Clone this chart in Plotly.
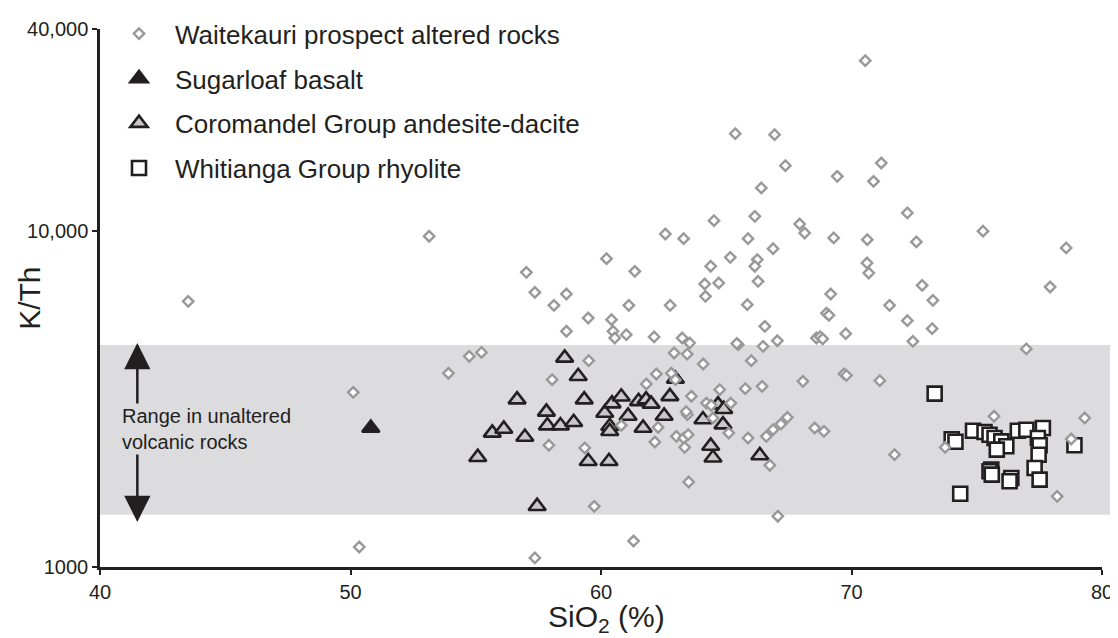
import math
import plotly.graph_objects as go

# ---------------- data ----------------
wait_x = [53.14, 57.02, 57.36, 50.11, 54.74, 55.23, 53.91, 50.35, 57.36, 43.52,
          58.62, 59.49, 60.42, 60.48, 60.55, 61.01, 62.12, 63.24, 63.54, 62.92,
          63.44, 64.08, 65.48, 65.42, 66.47, 67.04, 66.54, 66.00, 59.51, 58.05,
          61.81, 62.21, 62.81, 62.97, 63.61, 64.21, 64.74, 65.18, 65.76, 66.43,
          68.06, 64.47, 63.45, 63.40, 60.81, 62.28, 63.01, 63.30, 63.48, 62.15,
          63.34, 65.10, 65.87, 66.60, 66.87, 67.18, 67.44, 57.92, 59.35, 66.74,
          63.50, 59.73, 67.06, 64.40, 61.30,
          58.12, 58.62, 60.22, 61.35, 61.11, 62.76, 62.57, 63.30, 64.51, 64.38,
          65.16, 64.14, 64.70, 64.17, 65.87, 66.14, 66.87, 66.24, 66.14, 66.27,
          65.84, 67.93, 68.13, 68.60,
          70.55, 65.36, 66.93, 67.36, 66.40, 69.43, 71.19, 70.88, 72.23, 75.25,
          69.29, 70.63, 72.59, 78.57, 70.62, 70.69, 69.17, 69.00, 69.10, 68.75,
          68.85, 69.77, 71.52, 72.82, 73.25, 72.23, 73.22, 72.45, 77.93, 76.98,
          69.70, 69.80, 71.13, 68.53, 68.90, 71.72, 75.69, 73.74, 79.31, 78.77,
          78.21]
wait_y = [9660, 7544, 6577, 3313, 4241, 4355, 3775, 1147, 1064, 6184,
          5035, 5514, 5451, 5035, 4808, 4918, 4842, 4808, 4645, 4337,
          4306, 4022, 4592, 4630, 4541, 4718, 5208, 4115, 4115, 3612,
          3507, 3756, 3775, 3612, 3224, 3078, 3373, 3078, 3396, 3452,
          3573, 2778, 2842, 2900, 2642, 2606, 2449, 2420, 2477, 2356,
          2272, 2506, 2422, 2449, 2564, 2665, 2790, 2304, 2262, 2009,
          1791, 1516, 1416, 3030, 1195,
          6015, 6501, 8282, 7596, 6015, 6015, 9810, 9500, 10747, 7862,
          8360, 6962, 7009, 6398, 9500, 11075, 8870, 8229, 7862, 7093,
          6041, 10505, 9876, 4808,
          32190, 19510, 19380, 15670, 13450, 14570, 15960, 14080, 11330, 10000,
          9548, 9434, 9289, 8913, 8041, 7508, 6501, 5700, 5620, 4850,
          4780, 4953, 6015, 6901, 6226, 5414, 5125, 4699, 6820, 4459,
          3760, 3720, 3588, 2594, 2536, 2160, 2811, 2272, 2778, 2405,
          1624]

sugar_x = [50.81]
sugar_y = [2593]

coro_x = [58.55, 59.09, 56.65, 57.82, 59.33, 55.66, 56.12, 56.96, 57.86, 58.38,
          58.91, 55.08, 59.49, 60.32, 57.45, 60.15, 60.44, 60.81, 61.08, 60.35,
          60.35, 61.68, 61.50, 61.80, 62.00, 62.52, 62.75, 62.97, 64.07, 64.87,
          64.67, 64.90, 64.38, 64.47, 66.34]
coro_y = [4195, 3698, 3151, 2897, 3151, 2508, 2576, 2438, 2637, 2637,
          2697, 2123, 2064, 2064, 1517, 2876, 3066, 3212, 2817, 2624,
          2536, 2594, 3114, 3150, 3060, 2817, 3222, 3631, 2748, 2655,
          3045, 2950, 2293, 2115, 2149]

whit_x = [73.32, 74.00, 74.15, 74.85, 75.31, 75.51, 75.71, 75.98, 76.18, 75.80,
          76.64, 76.98, 77.64, 77.44, 77.51, 77.47, 78.90, 75.58, 75.51, 75.60,
          76.38, 76.31, 77.31, 77.51, 74.34]
whit_y = [3282, 2400, 2360, 2546, 2523, 2477, 2422, 2367, 2288, 2236,
          2546, 2564, 2594, 2422, 2304, 2160, 2304, 1950, 1928, 1884,
          1841, 1800, 1972, 1820, 1653]

range_low, range_high = 1430, 4580      # unaltered volcanic rocks K/Th range
x_ticks = [40, 50, 60, 70, 80]
x_minor = list(range(40, 81, 2))
y_ticks = [1000, 10000, 40000]
y_ticktext = ["1000", "10,000", "40,000"]
y_minor = [1000, 2000, 3000, 4000, 5000, 6000, 7000, 8000, 9000, 10000, 20000, 30000, 40000]

INK = "#231f20"
FONT = "Liberation Sans, Arial, Helvetica, sans-serif"

fig = go.Figure()

fig.add_trace(go.Scatter(
    x=coro_x, y=coro_y, mode="markers", name="Coromandel Group andesite-dacite",
    legendrank=3, legendgroup="c",
    marker=dict(symbol="triangle-up", size=15, color="#c8c8ca",
                line=dict(color=INK, width=2.6))))
fig.add_trace(go.Scatter(
    x=sugar_x, y=sugar_y, mode="markers", name="Sugarloaf basalt",
    legendrank=2, legendgroup="b",
    marker=dict(symbol="triangle-up", size=15, color=INK,
                line=dict(color=INK, width=2.6))))
fig.add_trace(go.Scatter(
    x=whit_x, y=whit_y, mode="markers", name="Whitianga Group rhyolite",
    legendrank=4, legendgroup="d",
    marker=dict(symbol="square", size=14, color="white",
                line=dict(color=INK, width=2.6))))
fig.add_trace(go.Scatter(
    x=wait_x, y=wait_y, mode="markers", name="Waitekauri prospect altered rocks",
    legendrank=1, legendgroup="a",
    marker=dict(symbol="diamond", size=8, color="white",
                line=dict(color="#999999", width=2.4))))

# range band
fig.add_shape(type="rect", xref="paper", x0=0, x1=1.008, yref="y",
              y0=range_low, y1=range_high, fillcolor="#dcdcde",
              line=dict(width=0), layer="below")

arrow_x = 41.49
for tip, tail in [(4645, 3037), (1362, 2185)]:
    fig.add_annotation(x=arrow_x, y=math.log10(tip), ax=arrow_x, ay=math.log10(tail),
                       axref="x", ayref="y", xref="x", yref="y", text="",
                       showarrow=True, arrowhead=2, arrowsize=2.1, arrowwidth=2.5,
                       arrowcolor=INK, standoff=0)
fig.add_annotation(x=40.8, y=3.4124, xref="x", yref="y", xanchor="left",
                   yanchor="middle", align="left", showarrow=False,
                   text="Range in unaltered<br>volcanic rocks",
                   font=dict(size=20, color=INK, family=FONT))

# axis titles placed as paper-anchored annotations
fig.add_annotation(xref="paper", yref="paper", x=-0.071, y=0.5, textangle=-90,
                   xanchor="center", yanchor="middle", showarrow=False,
                   text="K/Th", font=dict(size=30, color=INK, family=FONT))
fig.add_annotation(xref="paper", yref="paper", x=0.505, y=-0.096,
                   xanchor="center", yanchor="middle", showarrow=False,
                   text="SiO<sub>2</sub> (%)", font=dict(size=30, color=INK, family=FONT))

fig.update_layout(
    width=1118, height=638,
    margin=dict(l=92, r=24, t=21, b=79, autoexpand=False),
    paper_bgcolor="white", plot_bgcolor="rgba(0,0,0,0)",
    font=dict(family=FONT, color=INK, size=20),
    showlegend=True,
    legend=dict(x=0.003, y=1.035, xanchor="left", yanchor="top",
                font=dict(size=26, color=INK, family=FONT),
                itemwidth=62, tracegroupgap=8, traceorder="grouped",
                bgcolor="rgba(0,0,0,0)"),
    xaxis=dict(range=[40, 80], showgrid=False, zeroline=False, automargin=False,
               showline=True, linecolor=INK, linewidth=2.5,
               tickmode="array", tickvals=x_ticks, ticks="outside",
               ticklen=5, tickwidth=2, tickcolor=INK,
               tickfont=dict(size=20, color=INK)),
    xaxis2=dict(range=[40, 80], overlaying="x", anchor="y", side="bottom",
                showgrid=False, zeroline=False, showline=False, automargin=False,
                tickmode="array", tickvals=x_minor, ticks="inside",
                ticklen=5, tickwidth=2, tickcolor=INK, showticklabels=False),
    yaxis=dict(type="log", range=[3, math.log10(40000)], showgrid=False,
               zeroline=False, showline=True, linecolor=INK, linewidth=2.5,
               automargin=False,
               tickmode="array", tickvals=y_ticks, ticktext=y_ticktext,
               ticks="outside", ticklen=5, tickwidth=2, tickcolor=INK,
               tickfont=dict(size=20, color=INK)),
    yaxis2=dict(type="log", range=[3, math.log10(40000)], overlaying="y",
                anchor="x", side="left", showgrid=False, zeroline=False,
                showline=False, automargin=False, tickmode="array", tickvals=y_minor,
                ticks="inside", ticklen=5, tickwidth=2, tickcolor=INK,
                showticklabels=False),
)

fig.write_html("out.html")
